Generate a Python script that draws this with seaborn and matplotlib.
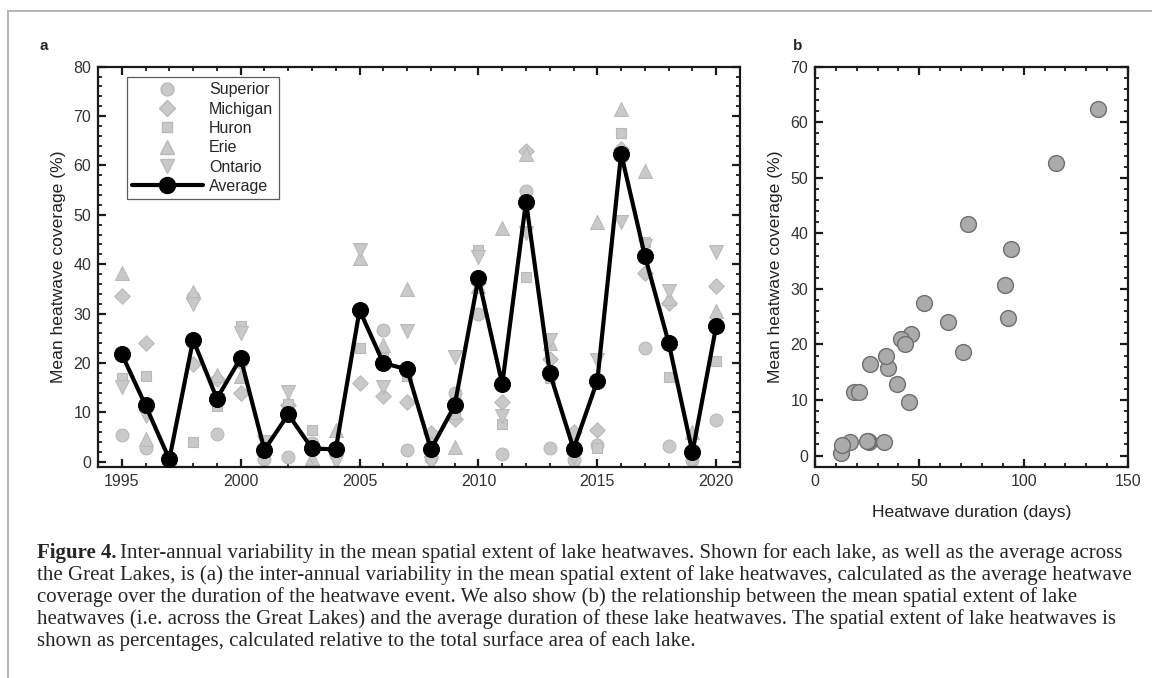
import numpy as np
import pandas as pd
import matplotlib
matplotlib.use("Agg")
import matplotlib.pyplot as plt
from matplotlib.lines import Line2D
from matplotlib.ticker import MultipleLocator
import seaborn as sns

# values
years = list(range(1995, 2021))
superior = [5.5, 2.8, 0.3, 33.3, 5.7, 20.3, 0.5, 0.9, 3.9, 1.5, 30.3, 26.7, 2.4,
            0.8, 13.9, 29.9, 1.6, 54.9, 2.8, 0.4, 3.4, 62.0, 23.0, 3.2, 0.4, 8.4]
michigan = [33.6, 24.0, 0.5, 19.8, 16.7, 13.9, 2.0, 11.4, 2.3, 2.2, 16.0, 13.4, 12.2,
            5.8, 8.6, 36.2, 12.1, 62.9, 20.8, 6.1, 6.5, 63.3, 38.3, 32.1, 1.5, 35.5]
huron = [16.9, 17.3, 0.4, 4.1, 11.2, 27.4, 1.9, 11.7, 6.5, 1.8, 23.1, 21.1, 17.3,
         2.8, 9.7, 42.9, 7.7, 37.5, 16.9, 2.5, 2.8, 66.6, 44.6, 17.1, 1.5, 20.5]
erie = [38.3, 4.6, 1.0, 34.3, 17.6, 17.4, 3.5, 9.8, 0.7, 6.5, 41.2, 23.7, 34.9,
        3.8, 3.0, 35.5, 47.3, 62.4, 24.0, 3.0, 48.6, 71.5, 58.9, 33.1, 6.1, 30.6]
ontario = [15.1, 9.2, 0.0, 32.0, 12.5, 26.0, 4.1, 14.2, 1.1, 0.0, 42.9, 15.1, 26.4,
           -0.3, 21.3, 41.5, 9.2, 46.3, 24.7, 1.0, 20.6, 48.6, 43.6, 34.5, 0.0, 42.5]
average = [21.8, 11.4, 0.5, 24.7, 12.8, 21.0, 2.4, 9.6, 2.7, 2.5, 30.7, 20.0, 18.7,
           2.5, 11.4, 37.2, 15.7, 52.7, 18.0, 2.6, 16.4, 62.4, 41.7, 24.1, 1.9, 27.5]
duration = [46.0, 18.6, 12.3, 92.5, 39.2, 41.4, 26.1, 44.9, 25.3, 33.3, 91.1, 43.3, 70.8,
            16.6, 21.0, 93.9, 35.2, 115.7, 34.2, 25.0, 26.3, 135.8, 73.1, 63.7, 12.7, 52.4]

lake_names = ["Superior", "Michigan", "Huron", "Erie", "Ontario"]
lake_values = [superior, michigan, huron, erie, ontario]
lake_markers = {"Superior": "o", "Michigan": "D", "Huron": "s", "Erie": "^", "Ontario": "v"}
lake_sizes = {"Superior": 85, "Michigan": 62, "Huron": 58, "Erie": 100, "Ontario": 100}

caption_lines = [
    "Inter-annual variability in the mean spatial extent of lake heatwaves. Shown for each lake, as well as the average across",
    "the Great Lakes, is (a) the inter-annual variability in the mean spatial extent of lake heatwaves, calculated as the average heatwave",
    "coverage over the duration of the heatwave event. We also show (b) the relationship between the mean spatial extent of lake",
    "heatwaves (i.e. across the Great Lakes) and the average duration of these lake heatwaves. The spatial extent of lake heatwaves is",
    "shown as percentages, calculated relative to the total surface area of each lake.",
]

lakes_df = pd.DataFrame({"Year": np.tile(years, 5),
                         "Lake": np.repeat(lake_names, len(years)),
                         "Coverage": np.concatenate(lake_values)})
avg_df = pd.DataFrame({"Year": years, "Average": average, "Duration": duration})

sns.set_theme(style="ticks")
plt.rcParams["font.family"] = ["Liberation Sans", "DejaVu Sans"]
plt.rcParams["axes.linewidth"] = 1.6
plt.rcParams["axes.edgecolor"] = "#1a1a1a"

fig = plt.figure(figsize=(11.52, 6.78), dpi=100)
ax_a = fig.add_axes([98 / 1152, 1 - 466.7 / 678, (740 - 98) / 1152, 400 / 678])
ax_b = fig.add_axes([815 / 1152, 1 - 466.7 / 678, (1128 - 815) / 1152, 400 / 678])

light = "#c9c9c9"
light_edge = "#b9b9b9"
for lake in lake_names:
    sub = lakes_df[lakes_df["Lake"] == lake]
    sns.scatterplot(data=sub, x="Year", y="Coverage", ax=ax_a, marker=lake_markers[lake],
                    s=lake_sizes[lake], color=light, edgecolor=light_edge, linewidth=0.8,
                    zorder=2, legend=False)

sns.lineplot(data=avg_df, x="Year", y="Average", ax=ax_a, color="black", lw=3.0,
             marker="o", markersize=11.5, markeredgecolor="black", zorder=3)

ax_a.set_xlim(1994, 2021)
ax_a.set_ylim(-1, 80)
ax_a.xaxis.set_major_locator(MultipleLocator(5))
ax_a.xaxis.set_minor_locator(MultipleLocator(1))
ax_a.yaxis.set_major_locator(MultipleLocator(10))
ax_a.yaxis.set_minor_locator(MultipleLocator(2))
ax_a.set_xlabel("")
ax_a.set_ylabel("Mean heatwave coverage (%)", fontsize=12.6, color="#222222", labelpad=5)

handles = [Line2D([], [], ls="none", marker=lake_markers[n], color=light, markeredgecolor=light_edge,
                  markersize=np.sqrt(lake_sizes[n])) for n in lake_names]
handles.append(Line2D([], [], color="black", lw=3.0, marker="o", markersize=11.5))
leg = ax_a.legend(handles, lake_names + ["Average"], loc="upper left",
                  bbox_to_anchor=(0.0447, 0.975), frameon=True, fancybox=False,
                  edgecolor="#333333", fontsize=11.5, handlelength=4.4, handletextpad=0.4,
                  labelspacing=0.27, borderpad=0.35, borderaxespad=0)
leg.get_frame().set_linewidth(0.9)

sns.scatterplot(data=avg_df, x="Duration", y="Average", ax=ax_b, s=130, color="#ababab",
                edgecolor="#6f6f6f", linewidth=1.0, zorder=3, legend=False)
ax_b.set_xlim(0, 150)
ax_b.set_ylim(-2, 70)
ax_b.xaxis.set_major_locator(MultipleLocator(50))
ax_b.xaxis.set_minor_locator(MultipleLocator(10))
ax_b.yaxis.set_major_locator(MultipleLocator(10))
ax_b.yaxis.set_minor_locator(MultipleLocator(2))
ax_b.set_xlabel("Heatwave duration (days)", fontsize=12.6, color="#222222", labelpad=12)
ax_b.set_ylabel("Mean heatwave coverage (%)", fontsize=12.6, color="#222222", labelpad=5)

for ax in (ax_a, ax_b):
    ax.tick_params(which="both", direction="in", top=True, right=True, colors="#1a1a1a",
                   labelcolor="#333333", labelsize=11.5)
    ax.tick_params(which="major", length=5.5, width=1.6, pad=5)
    ax.tick_params(which="minor", length=3, width=1.3)
    for sp in ax.spines.values():
        sp.set_visible(True)

fig.text(40 / 1152, 1 - 46 / 678, "a", fontsize=11, fontweight="bold", va="center")
fig.text(793 / 1152, 1 - 46 / 678, "b", fontsize=11, fontweight="bold", va="center")

# page frame lines
fig.add_artist(Line2D([8 / 1152, 1], [1 - 11 / 678] * 2, transform=fig.transFigure,
                      color="#b0b0b0", lw=1.3))
fig.add_artist(Line2D([8 / 1152, 8 / 1152], [0, 1 - 11 / 678], transform=fig.transFigure,
                      color="#b0b0b0", lw=1.3))

# caption
serif = ["Liberation Serif", "DejaVu Serif"]
cap_size = 15.0
cap_x = 37
line_y = [553, 575, 597, 619, 641]
fig.canvas.draw()
renderer = fig.canvas.get_renderer()
bold = fig.text(cap_x / 1152, 1 - line_y[0] / 678, "Figure 4.", family=serif, fontsize=cap_size,
                fontweight="bold", va="center")
bw = bold.get_window_extent(renderer).width
fig.text((cap_x + bw + 4) / 1152, 1 - line_y[0] / 678, caption_lines[0], family=serif,
         fontsize=cap_size, va="center")
for txt, yy in zip(caption_lines[1:], line_y[1:]):
    fig.text(cap_x / 1152, 1 - yy / 678, txt, family=serif, fontsize=cap_size, va="center")

fig.savefig("out.png", dpi=100)
